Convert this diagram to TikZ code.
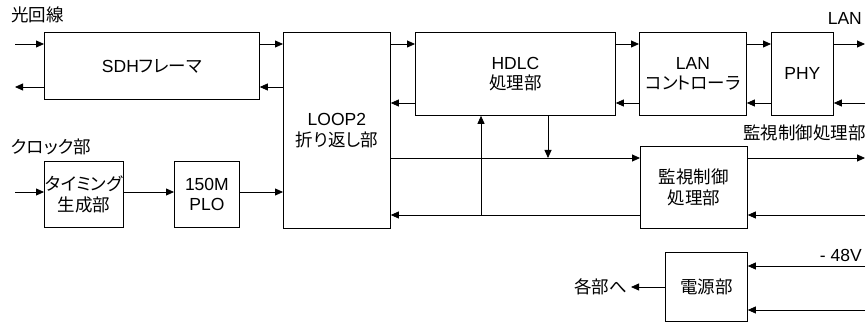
\documentclass[tikz,border=0pt]{standalone}
\usepackage{fontspec}
\setmainfont{Liberation Sans}
\newfontfamily\jp[RawFeature=+palt]{Noto Sans CJK JP}
\usetikzlibrary{arrows.meta}
\begin{document}
\begin{tikzpicture}[x=1pt,y=-1pt,
  box/.style={draw, line width=0.8pt, anchor=north west, inner sep=0pt, align=center,
    font=\fontsize{17.5}{20.5}\selectfont},
  lbl/.style={inner sep=0pt, font=\fontsize{17.5}{20.5}\selectfont},
  arr/.style={line width=0.8pt, -{Triangle[length=8pt,width=7pt]}},
  ln/.style={line width=0.8pt}]
\useasboundingbox (0,0) rectangle (866,323);
% boxes
\node[box, minimum width=215pt, minimum height=67pt] (sdh) at (44,32) {SDH{\jp フレーマ}};
\node[box, minimum width=107pt, minimum height=196pt] (loop) at (283,32) {LOOP2\\{\jp 折り返し部}};
\node[box, minimum width=200pt, minimum height=83pt] (hdlc) at (415,32) {HDLC\\{\jp 処理部}};
\node[box, minimum width=107pt, minimum height=83pt] (lanc) at (639,32) {LAN\\{\jp コントローラ}};
\node[box, minimum width=62pt, minimum height=83pt] (phy) at (771,32) {PHY};
\node[box, minimum width=79pt, minimum height=66pt] (tim) at (44,161) {{\jp タイミング}\\{\jp 生成部}};
\node[box, minimum width=65pt, minimum height=66pt] (plo) at (174,161) {150M\\PLO};
\node[box, minimum width=107pt, minimum height=82pt] (mon) at (640,146) {{\jp 監視制御}\\{\jp 処理部}};
\node[box, minimum width=82pt, minimum height=69pt] (pwr) at (665,252) {{\jp 電源部}};
% labels
\node[lbl, anchor=west] (l1) at (11,15) {\jp 光回線};
\node[lbl, anchor=east] (l2) at (862,18) {LAN};
\node[lbl, anchor=east] (l3) at (866,133) {\jp 監視制御処理部};
\node[lbl, anchor=west] (l4) at (11,147) {\jp クロック部};
\node[lbl, anchor=east] (l5) at (862,255) {- 48V};
\node[lbl, anchor=east] (l6) at (627,287) {\jp 各部へ};
% row coordinates
\coordinate (r1) at (0,44);
\coordinate (r2) at (0,87);
\coordinate (r3) at (0,103);
\coordinate (r4) at (0,158);
\coordinate (r5) at (0,215);
\coordinate (r6) at (0,192);
\coordinate (r7) at (0,266);
\coordinate (r8) at (0,310);
\coordinate (r9) at (0,287);
\coordinate (xl) at (15,0);
\coordinate (xr) at (865,0);
\coordinate (v1) at (481,215);
\coordinate (v2) at (548,158);
\coordinate (po) at (631,287);
% top row
\draw[arr] (xl |- r1) -- (sdh.west |- r1);
\draw[arr] (sdh.west |- r2) -- (xl |- r2);
\draw[arr] (sdh.east |- r1) -- (loop.west |- r1);
\draw[arr] (loop.west |- r2) -- (sdh.east |- r2);
\draw[arr] (loop.east |- r1) -- (hdlc.west |- r1);
\draw[arr] (hdlc.west |- r3) -- (loop.east |- r3);
\draw[arr] (hdlc.east |- r1) -- (lanc.west |- r1);
\draw[arr] (lanc.west |- r3) -- (hdlc.east |- r3);
\draw[arr] (lanc.east |- r1) -- (phy.west |- r1);
\draw[arr] (phy.west |- r3) -- (lanc.east |- r3);
\draw[arr] (phy.east |- r1) -- (xr |- r1);
\draw[arr] (xr |- r3) -- (phy.east |- r3);
% monitoring
\draw[arr] (loop.east |- r4) -- (mon.west |- r4);
\draw[arr] (mon.east |- r4) -- (xr |- r4);
\draw[arr] (xr |- r5) -- (mon.east |- r5);
\draw[arr] (mon.west |- r5) -- (loop.east |- r5);
\draw[arr] (v1) -- (hdlc.south -| v1);
\draw[arr] (hdlc.south -| v2) -- (v2);
% clock
\draw[arr] (xl |- r6) -- (tim.west |- r6);
\draw[arr] (tim.east |- r6) -- (plo.west |- r6);
\draw[arr] (plo.east |- r6) -- (loop.west |- r6);
% power
\draw[arr] (xr |- r7) -- (pwr.east |- r7);
\draw[arr] (xr |- r8) -- (pwr.east |- r8);
\draw[arr] (pwr.west |- r9) -- (po);
\end{tikzpicture}
\end{document}
